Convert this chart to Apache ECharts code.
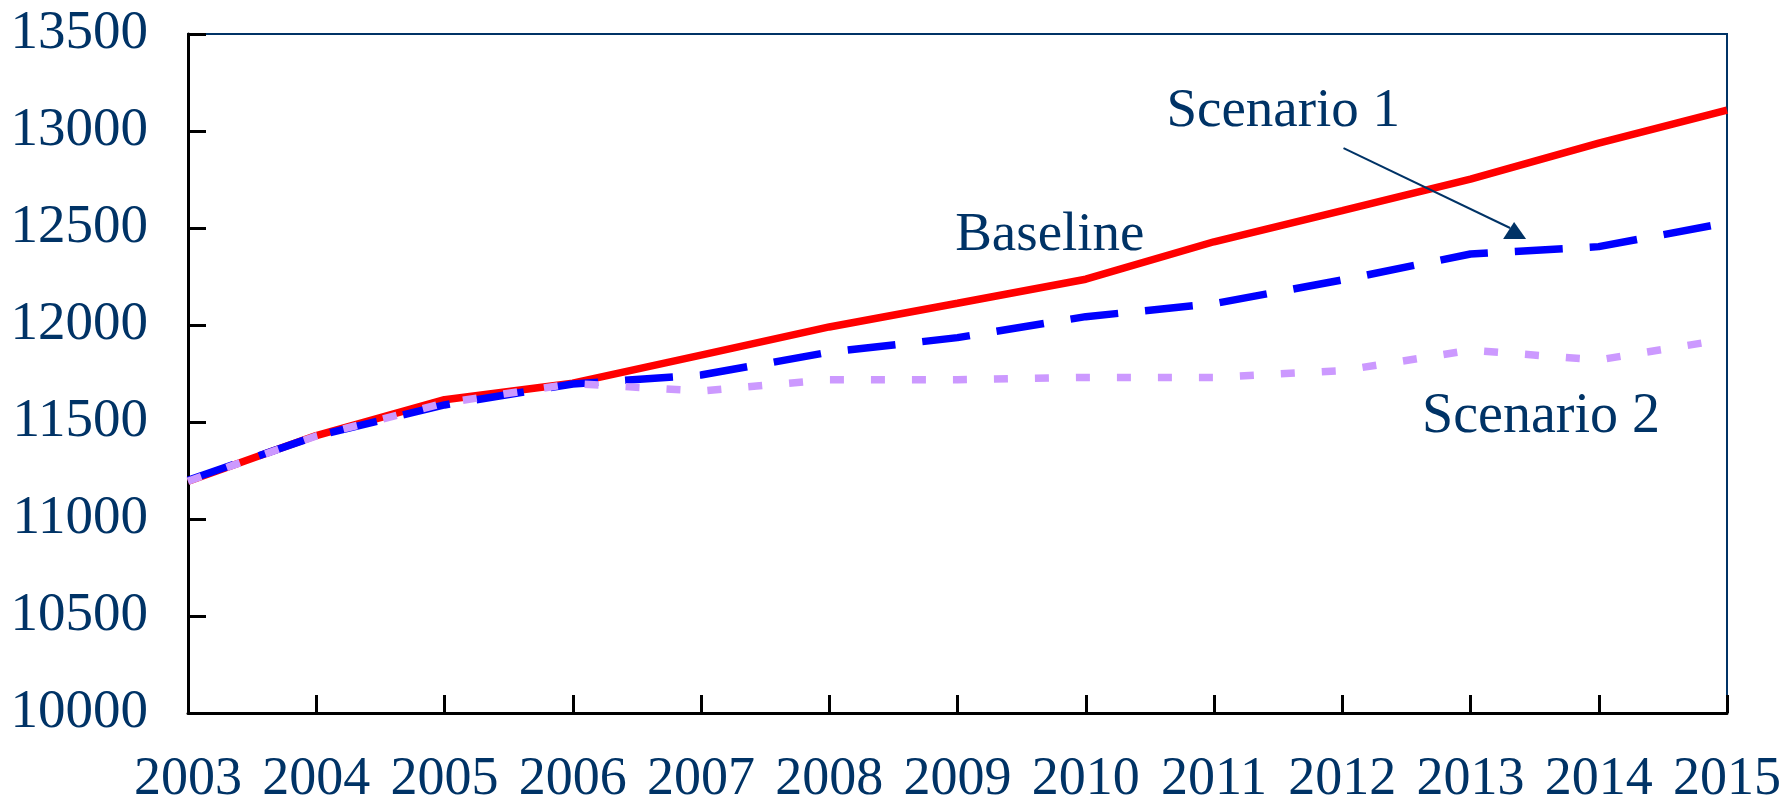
<!DOCTYPE html>
<html>
<head>
<meta charset="utf-8">
<script src="https://cdn.jsdelivr.net/npm/echarts@6/dist/echarts.min.js"></script>
<style>
html,body{margin:0;padding:0;background:#fff;}
#c{width:1784px;height:803px;}
</style>
</head>
<body>
<div id="c"></div>
<script>
const years = [2003,2004,2005,2006,2007,2008,2009,2010,2011,2012,2013,2014,2015];
const baseline  = [11195,11430,11615,11700,11845,11990,12112,12236,12429,12590,12752,12937,13108];
const scenario1 = [11200,11428,11588,11696,11742,11860,11935,12043,12110,12232,12366,12404,12527];
const scenario2 = [11195,11428,11598,11698,11660,11718,11718,11730,11730,11765,11870,11820,11928];
const yTicks = [10000,10500,11000,11500,12000,12500,13000,13500];
// annotation anchors in data coordinates
const labelScenario1 = {text:'Scenario 1', at:[2011.54, 13100]};
const labelBaseline  = {text:'Baseline',   at:[2009.72, 12462]};
const labelScenario2 = {text:'Scenario 2', at:[2013.55, 11522]};
const arrowFrom = [2012.01, 12912];
const arrowTo   = [2013.34, 12531];

const NAVY = '#003366';
const FONT = '"Liberation Serif","Times New Roman",serif';

const pair = arr => years.map((y,i)=>[y,arr[i]]);

const chart = echarts.init(document.getElementById('c'), null, {renderer:'canvas'});
chart.setOption({
  animation:false,
  backgroundColor:'#fff',
  grid:{left:188,right:57,top:34,bottom:90,containLabel:false,outerBoundsMode:'none',
        show:true,borderColor:NAVY,borderWidth:2,backgroundColor:'transparent'},
  xAxis:{
    type:'value',min:2003,max:2015,interval:1,
    axisLine:{show:true,lineStyle:{color:'#000',width:3}},
    axisTick:{show:true,inside:true,length:18,lineStyle:{color:'#000',width:3}},
    splitLine:{show:false},
    axisLabel:{color:NAVY,fontFamily:FONT,fontSize:54,margin:40,formatter:v=>String(v)}
  },
  yAxis:{
    type:'value',min:yTicks[0],max:yTicks[yTicks.length-1],interval:500,
    axisLine:{show:true,lineStyle:{color:'#000',width:3}},
    axisTick:{show:true,inside:true,length:18,lineStyle:{color:'#000',width:3}},
    splitLine:{show:false},
    axisLabel:{color:NAVY,fontFamily:FONT,fontSize:55,margin:40,formatter:v=>String(v)}
  },
  series:[
    {name:'Baseline',type:'line',data:pair(baseline),symbol:'none',
     lineStyle:{color:'#FF0000',width:7.5}},
    {name:'Scenario 1',type:'line',data:pair(scenario1),symbol:'none',
     lineStyle:{color:'#0000FF',width:7.5,type:[48,27],cap:'butt'}},
    {name:'Scenario 2',type:'line',data:pair(scenario2),symbol:'none',
     lineStyle:{color:'#CC99FF',width:7.5,type:[14,27],cap:'butt'}}
  ]
});

function px(p){ return chart.convertToPixel({gridIndex:0}, p); }
function textEl(l, size){
  const p = px(l.at);
  return {type:'text',x:p[0],y:p[1],z:10,
    style:{text:l.text,fill:NAVY,font:size+'px '+FONT,align:'center',verticalAlign:'middle'}};
}
const a0 = px(arrowFrom), a1 = px(arrowTo);
chart.setOption({
  graphic:[
    textEl(labelScenario1,55), textEl(labelBaseline,55), textEl(labelScenario2,56),
    {type:'line',z:10,shape:{x1:a0[0],y1:a0[1],x2:a1[0]-4,y2:a1[1]+6},style:{stroke:NAVY,lineWidth:2}},
    {type:'polygon',z:10,shape:{points:[[a1[0],a1[1]],[a1[0]-11,a1[1]+17],[a1[0]+12,a1[1]+17]]},style:{fill:NAVY}}
  ]
});
</script>
</body>
</html>
